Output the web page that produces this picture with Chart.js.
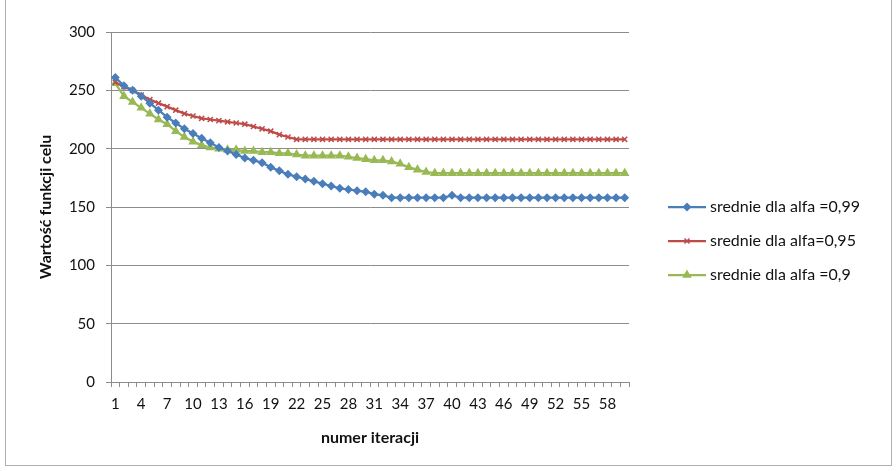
<!DOCTYPE html>
<html>
<head>
<meta charset="utf-8">
<script src="https://cdn.jsdelivr.net/npm/chart.js"></script>
<style>
  html, body { margin: 0; padding: 0; background: #fff; }
  #wrap { width: 896px; height: 471px; position: relative; }
</style>
</head>
<body>
<div id="wrap"><canvas id="chart" width="896" height="471"></canvas></div>
<script>
// iteracje 1..60
const iterations = Array.from({ length: 60 }, (_, i) => String(i + 1));

const seriesNames = ['srednie dla alfa =0,99', 'srednie dla alfa=0,95', 'srednie dla alfa =0,9'];

// wartosci
const alfa099 = [
  261, 254, 250, 245, 239, 233, 227, 222, 217, 213,
  209, 205, 201, 198, 195, 192, 190, 188, 184, 181,
  178, 176, 174, 172, 170, 168, 166, 165, 164, 163,
  161, 160, 158, 158, 158, 158, 158, 158, 158, 160,
  158, 158, 158, 158, 158, 158, 158, 158, 158, 158,
  158, 158, 158, 158, 158, 158, 158, 158, 158, 158
];
const alfa095 = [
  257, 253, 250, 246, 242, 239, 236, 233, 230, 228,
  226, 225, 224, 223, 222, 221, 219, 217, 215, 212,
  210, 208, 208, 208, 208, 208, 208, 208, 208, 208,
  208, 208, 208, 208, 208, 208, 208, 208, 208, 208,
  208, 208, 208, 208, 208, 208, 208, 208, 208, 208,
  208, 208, 208, 208, 208, 208, 208, 208, 208, 208
];
const alfa09 = [
  256, 245, 240, 235, 230, 225, 221, 215, 210, 206,
  203, 201, 200, 199, 199, 198, 198, 197, 197, 196,
  196, 195, 194, 194, 194, 194, 194, 193, 192, 191,
  190, 190, 189, 187, 184, 182, 180, 179, 179, 179,
  179, 179, 179, 179, 179, 179, 179, 179, 179, 179,
  179, 179, 179, 179, 179, 179, 179, 179, 179, 179
];

const yTicks = [0, 50, 100, 150, 200, 250, 300];

const FONT = 'Lato, "Open Sans", "Liberation Sans", sans-serif';
const TEXT = '#111';

// legenda po prawej: linia + znacznik + tekst
const sideLegend = {
  id: 'sideLegend',
  afterDraw(chart) {
    const ctx = chart.ctx;
    const x0 = 668, x1 = 706, yStart = 207, step = 34;
    chart.data.datasets.forEach((ds, i) => {
      const y = yStart + i * step;
      ctx.save();
      ctx.strokeStyle = ds.borderColor;
      ctx.lineWidth = 2.25;
      ctx.beginPath();
      ctx.moveTo(x0, y);
      ctx.lineTo(x1, y);
      ctx.stroke();
      if (Chart.helpers && Chart.helpers.drawPoint) {
        ctx.fillStyle = ds.backgroundColor;
        ctx.strokeStyle = ds.borderColor;
        ctx.lineWidth = 1.5;
        Chart.helpers.drawPoint(ctx, {
          pointStyle: ds.pointStyle,
          radius: ds.pointRadius,
          borderWidth: 1.5
        }, (x0 + x1) / 2, y);
      }
      ctx.fillStyle = TEXT;
      ctx.font = '16px ' + FONT;
      ctx.textBaseline = 'middle';
      ctx.textAlign = 'left';
      ctx.fillText(ds.label, x1 + 4, y);
      ctx.restore();
    });
    // ramka wykresu
    ctx.save();
    ctx.strokeStyle = '#b0b0b0';
    ctx.lineWidth = 1;
    ctx.strokeRect(5.5, -5, 886, 470.5);
    ctx.restore();
  }
};

const mkSet = (label, data, color, style, r) => ({
  label,
  data,
  borderColor: color,
  backgroundColor: color,
  pointBackgroundColor: color,
  pointBorderColor: color,
  pointStyle: style,
  pointRadius: r,
  pointBorderWidth: 1.5,
  borderWidth: 2.25,
  tension: 0
});

new Chart(document.getElementById('chart'), {
  type: 'line',
  data: {
    labels: iterations,
    datasets: [
      mkSet(seriesNames[0], alfa099, '#4A7EBB', 'rectRot', 3.4),
      mkSet(seriesNames[1], alfa095, '#BE4B48', 'crossRot', 3.6),
      mkSet(seriesNames[2], alfa09, '#98B954', 'triangle', 4)
    ]
  },
  options: {
    responsive: false,
    animation: false,
    layout: { padding: { top: 32, right: 267, left: 0, bottom: 0 } },
    plugins: {
      legend: { display: false },
      tooltip: { enabled: false }
    },
    scales: {
      x: {
        offset: true,
        grid: {
          offset: true,
          drawOnChartArea: false,
          drawTicks: true,
          tickLength: 5,
          color: '#8c8c8c'
        },
        border: { color: '#8c8c8c', width: 1 },
        ticks: {
          autoSkip: false,
          maxRotation: 0,
          padding: 8,
          color: TEXT,
          font: { family: FONT, size: 15 },
          callback: function (v, i) { return i % 3 === 0 ? this.getLabelForValue(v) : ''; }
        },
        title: {
          display: true,
          text: 'numer iteracji',
          color: TEXT,
          font: { family: FONT, size: 16, weight: 'bold' },
          padding: { top: 0, bottom: 24 }
        },
        afterFit: s => { s.height = 89; }
      },
      y: {
        min: 0,
        max: 300,
        afterBuildTicks: s => { s.ticks = yTicks.map(v => ({ value: v })); },
        grid: {
          color: '#8c8c8c',
          lineWidth: 1,
          tickLength: 5
        },
        border: { color: '#8c8c8c', width: 1 },
        ticks: {
          padding: 11,
          color: TEXT,
          font: { family: FONT, size: 15 }
        },
        title: {
          display: true,
          text: 'Wartość funkcji celu',
          color: TEXT,
          font: { family: FONT, size: 16, weight: 'bold' },
          padding: { top: 36, bottom: 0 }
        },
        afterFit: s => { s.width = 111; }
      }
    }
  },
  plugins: [sideLegend]
});
</script>
</body>
</html>
